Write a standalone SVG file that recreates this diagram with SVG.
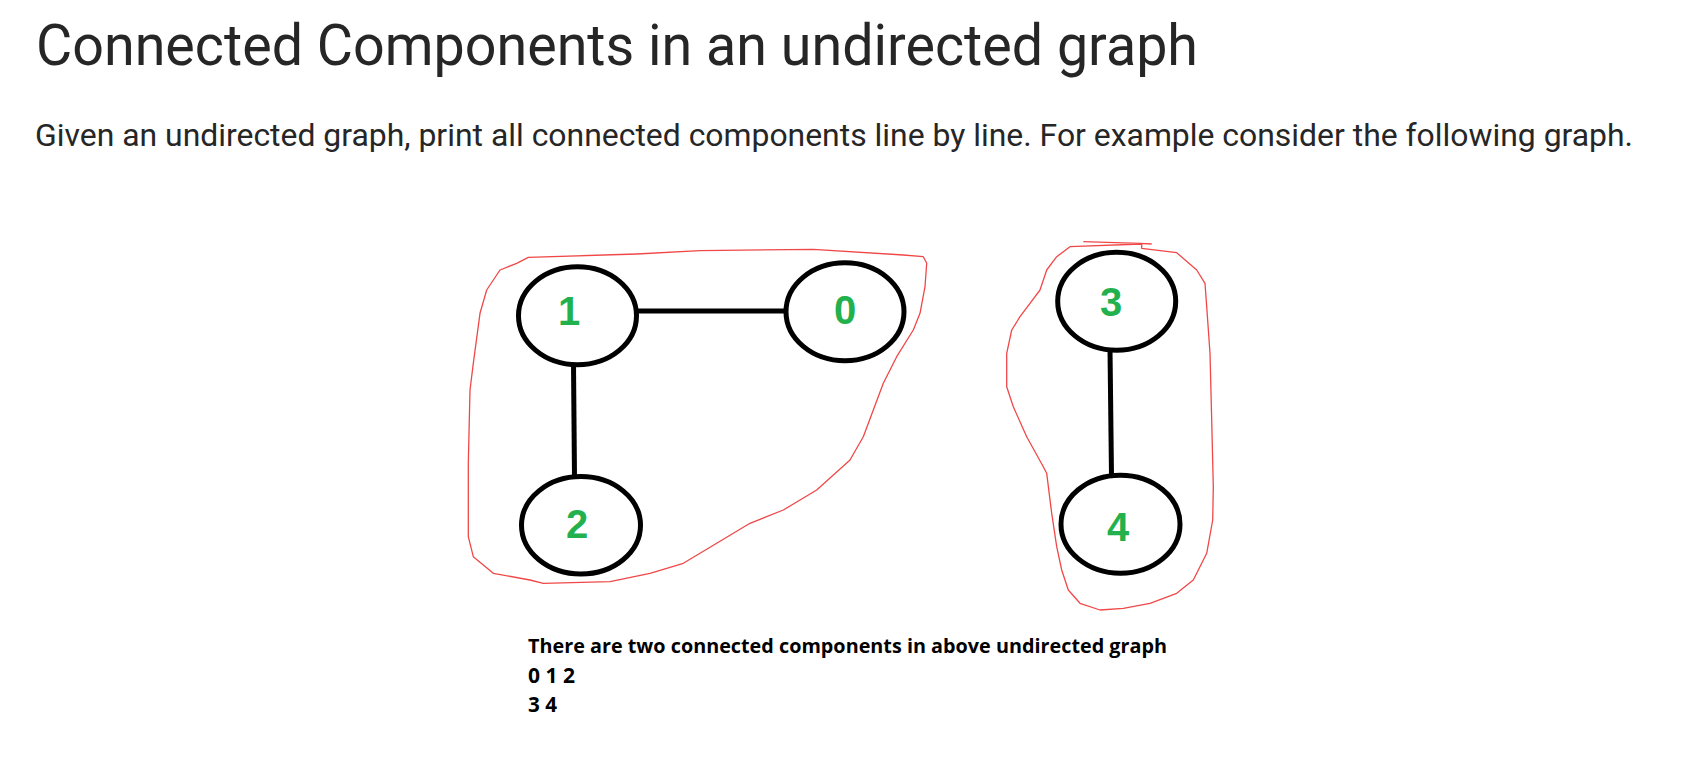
<svg xmlns="http://www.w3.org/2000/svg" width="1686" height="764" viewBox="0 0 1686 764">
<style>
.title{font-family:Roboto,"Liberation Sans",sans-serif;font-size:57px;fill:#262626}
.sub{font-family:Roboto,"Liberation Sans",sans-serif;font-size:31px;fill:#262626}
.node{fill:#fff;stroke:#000;stroke-width:5}
.lbl{font-family:"Liberation Sans",Arial,sans-serif;font-weight:bold;font-size:40px;fill:#22b14c;text-anchor:middle}
.edge{stroke:#000;stroke-width:5;fill:none}
.hull{fill:none;stroke:#f04848;stroke-width:1.3;stroke-linejoin:round}
.note{font-family:"Open Sans","Liberation Sans",sans-serif;font-weight:bold;font-size:20px;fill:#000}
.num{font-family:"Open Sans","Liberation Sans",sans-serif;font-weight:bold;font-size:21px;fill:#000}
</style>
<rect width="1686" height="764" fill="#fff"/>
<text class="title" x="36" y="65" textLength="1162" lengthAdjust="spacingAndGlyphs">Connected Components in an undirected graph</text>
<text class="sub" x="35" y="146" textLength="1598" lengthAdjust="spacingAndGlyphs">Given an undirected graph, print all connected components line by line. For example consider the following graph.</text>
<g id="hulls">
<path class="hull" d="M528.3,257.3 L636.7,254 L700,250.7 L813.3,249.3 L903.3,255 L923.3,256.7 L926.7,263.3 L925,286.7 L920,313.3 L913.3,330 L896.7,356.7 L883.3,383.3 L873.3,410 L863.3,436.7 L850,460 L816.7,490 L783.3,510 L750,523.3 L716.7,543.3 L683.3,563.3 L650,573.3 L610,581.7 L543.3,583.3 L530,580 L493.3,573.3 L473.3,556.7 L468.3,536.7 L468.3,463.3 L470,390 L473.3,363.3 L480,313.3 L486.7,290 L500,270 L516.7,263.3 Z"/>
<path class="hull" d="M1083.3,241.7 L1140,243.3 L1151.7,244 M1141.7,244 L1141.7,248.3 L1176.7,252.7 L1196.7,270 L1205,283.3 L1206.7,306.7 L1210,353.3 L1211.7,420 L1213.3,486.7 L1212.7,520 L1206.7,553.3 L1193.3,580 L1176.7,593.3 L1150,603.3 L1123.3,608.3 L1100,610 L1080,603.3 L1068.3,590 L1061.7,570 L1056.7,546.7 L1051.7,513.3 L1046.7,473.3 L1043.3,466.7 L1026.7,436.7 L1013.3,406.7 L1006.7,386.7 L1006.7,353.3 L1011.7,330 L1020,316.7 L1030,303.3 L1040,290 L1046.7,270 L1056.7,256.7 L1070,246.7 Z"/>
</g>
<g id="connectors">
<line class="edge" x1="636" y1="311" x2="787" y2="311"/>
<line class="edge" x1="573.5" y1="364" x2="574.5" y2="478"/>
<line class="edge" x1="1110" y1="349" x2="1111.5" y2="476"/>
</g>
<g id="node-1"><ellipse class="node" cx="577.5" cy="315.8" rx="59" ry="49"/><text class="lbl" x="569" y="325">1</text></g>
<g id="node-0"><ellipse class="node" cx="845" cy="311.7" rx="59" ry="49"/><text class="lbl" x="845" y="324">0</text></g>
<g id="node-2"><ellipse class="node" cx="581" cy="525.3" rx="59.5" ry="48.7"/><text class="lbl" x="577" y="538">2</text></g>
<g id="node-3"><ellipse class="node" cx="1116.7" cy="301.2" rx="59" ry="49"/><text class="lbl" x="1111" y="316">3</text></g>
<g id="node-4"><ellipse class="node" cx="1120.5" cy="524.2" rx="59.5" ry="49"/><text class="lbl" x="1118" y="541">4</text></g>
<g id="note">
<text class="note" x="528" y="653" textLength="639" lengthAdjust="spacingAndGlyphs">There are two connected components in above undirected graph</text>
<text class="num" x="528" y="683" textLength="47" lengthAdjust="spacingAndGlyphs">0 1 2</text>
<text class="num" x="528" y="712" textLength="29" lengthAdjust="spacingAndGlyphs">3 4</text>
</g>
</svg>
